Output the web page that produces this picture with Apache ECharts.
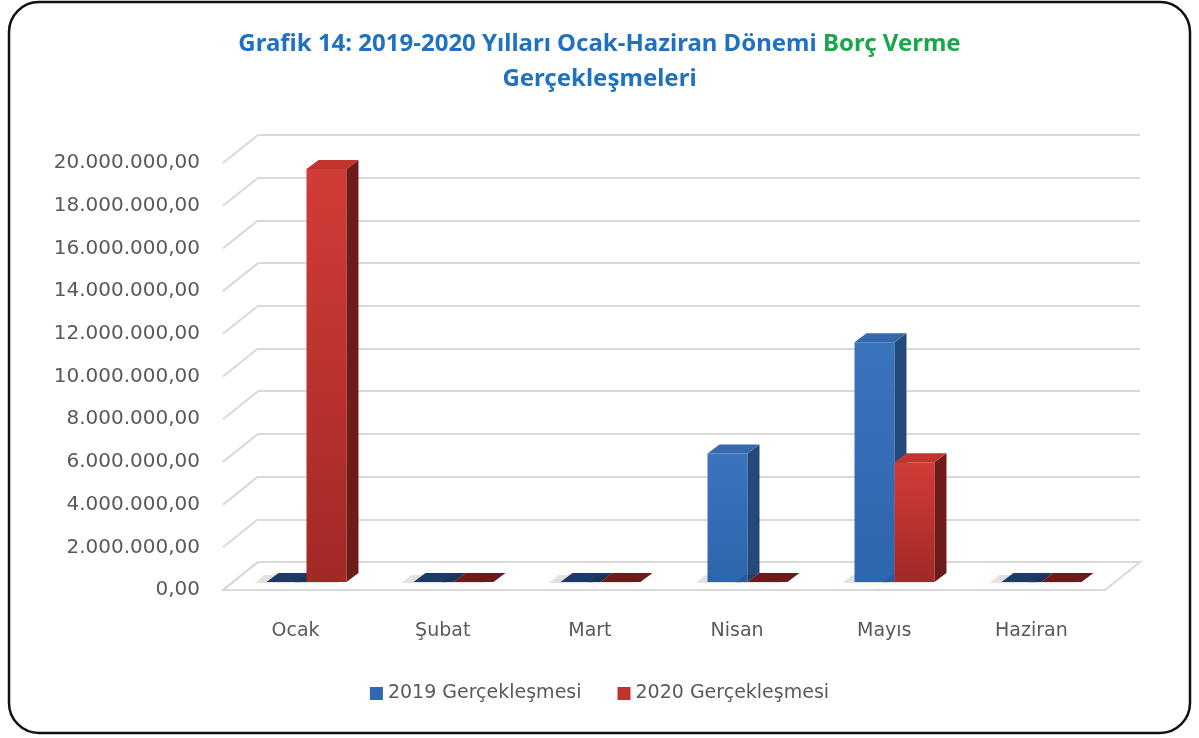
<!DOCTYPE html>
<html>
<head>
<meta charset="utf-8">
<script src="https://cdn.jsdelivr.net/npm/echarts@6/dist/echarts.min.js"></script>
<style>
html, body { margin: 0; padding: 0; background: #fff; }
#main { width: 1199px; height: 738px; }
</style>
</head>
<body>
<div id="main"></div>
<script>
var months = ['Ocak', 'Şubat', 'Mart', 'Nisan', 'Mayıs', 'Haziran'];
var values2019 = [0, 0, 0, 6000000, 11200000, 0];
var values2020 = [19300000, 0, 0, 0, 5600000, 0];
var yTicks = [0, 2000000, 4000000, 6000000, 8000000, 10000000, 12000000, 14000000, 16000000, 18000000, 20000000];
var seriesNames = ['2019 Gerçekleşmesi', '2020 Gerçekleşmesi'];

var chartDom = document.getElementById('main');
var myChart = echarts.init(chartDom);

// depth offset of the 3d box (back wall -> front edge)
var DEPTH_X = -35, DEPTH_Y = 28;

function trFormat(v) {
    return String(Math.round(v)).replace(/\B(?=(\d{3})+(?!\d))/g, '.') + ',00';
}

// 3d looking bar: front face, right side and top
function bar3d(side, frontTop, frontBottom, sideCol, topCol, flatCol) {
    return function (params, api) {
        var i = api.value(0), v = api.value(1);
        var base = api.coord([i, 0]);
        var top = api.coord([i, v]);
        var band = api.size([1, 0])[0];
        var w = band * 0.272;
        var x0 = side < 0 ? base[0] - w : base[0];
        var x1 = x0 + w;
        var dx = w * 0.3, dy = -w * 0.225;
        var children = [];
        // soft floor shadow
        children.push({
            type: 'polygon',
            shape: { points: [[x0 - 12, base[1] + 1], [x1 - 8, base[1] + 1], [x1 + dx - 10, base[1] + dy + 2], [x0 + dx - 14, base[1] + dy + 2]] },
            style: { fill: 'rgba(0,0,0,0.10)', shadowBlur: 10, shadowColor: 'rgba(0,0,0,0.3)' }
        });
        if (v > 0) {
            children.push({
                type: 'rect',
                shape: { x: x0, y: top[1], width: w, height: base[1] - top[1] },
                style: {
                    fill: new echarts.graphic.LinearGradient(0, 0, 0, 1, [
                        { offset: 0, color: frontTop }, { offset: 1, color: frontBottom }
                    ])
                }
            });
            children.push({
                type: 'polygon',
                shape: { points: [[x1, top[1]], [x1 + dx, top[1] + dy], [x1 + dx, base[1] + dy], [x1, base[1]]] },
                style: { fill: sideCol }
            });
            children.push({
                type: 'polygon',
                shape: { points: [[x0, top[1]], [x0 + dx, top[1] + dy], [x1 + dx, top[1] + dy], [x1, top[1]]] },
                style: { fill: topCol }
            });
        } else {
            children.push({
                type: 'polygon',
                shape: { points: [[x0, top[1]], [x0 + dx, top[1] + dy], [x1 + dx, top[1] + dy], [x1, top[1]]] },
                style: { fill: flatCol }
            });
        }
        return { type: 'group', children: children };
    };
}

// diagonal parts of the grid lines and the floor
function wallLines(params, api) {
    var cs = params.coordSys;
    var v = api.value(0);
    var p = api.coord([0, v]);
    var xl = cs.x;
    var children = [{
        type: 'line',
        shape: { x1: xl, y1: p[1], x2: xl + DEPTH_X, y2: p[1] + DEPTH_Y },
        style: { stroke: '#d9d9d9', lineWidth: 2 }
    }];
    if (v === 0) {
        var xr = cs.x + cs.width;
        children.unshift({
            type: 'polygon',
            shape: { points: [[xl, p[1]], [xr, p[1]], [xr + DEPTH_X, p[1] + DEPTH_Y], [xl + DEPTH_X, p[1] + DEPTH_Y]] },
            style: { fill: '#ffffff', stroke: '#d9d9d9', lineWidth: 2 }
        });
    }
    return { type: 'group', children: children };
}

var titleRich = {
    a: { fontFamily: 'Noto Sans', fontSize: 24, fontWeight: 'bold', color: '#1f72c1' },
    b: { fontFamily: 'Noto Sans', fontSize: 24, fontWeight: 'bold', color: '#1aa64a' }
};

var option = {
    backgroundColor: '#fff',
    animation: false,
    title: [{
        text: '{a|Grafik 14: 2019-2020 Yılları Ocak-Haziran Dönemi }{b|Borç Verme}',
        left: 'center',
        top: 27,
        textStyle: { rich: titleRich }
    }, {
        text: '{a|Gerçekleşmeleri}',
        left: 'center',
        top: 62,
        textStyle: { rich: titleRich }
    }],
    graphic: [{
        type: 'rect',
        shape: { x: 9, y: 2, width: 1181, height: 731, r: 30 },
        style: { fill: 'none', stroke: '#111', lineWidth: 2.5 },
        z: 100
    }],
    legend: {
        bottom: 30,
        left: 'center',
        itemWidth: 13,
        itemHeight: 13,
        itemGap: 36,
        icon: 'rect',
        data: seriesNames,
        textStyle: { fontFamily: 'DejaVu Sans', fontSize: 19, color: '#595959' }
    },
    grid: [
        { left: 258, right: 59, top: 135, bottom: 176 },
        { left: 222, right: 94, top: 163, bottom: 148 },
        { left: 233, right: 84, top: 154, bottom: 156 }
    ],
    xAxis: [
        { gridIndex: 0, type: 'category', data: months, show: false },
        {
            gridIndex: 1, type: 'category', data: months,
            axisLine: { show: false }, axisTick: { show: false },
            axisLabel: { margin: 32, fontFamily: 'DejaVu Sans', fontSize: 19, color: '#595959' }
        },
        { gridIndex: 2, type: 'category', data: months, show: false }
    ],
    yAxis: [
        {
            gridIndex: 0, type: 'value', min: 0, max: 20000000, interval: 2000000,
            axisLabel: { show: false }, axisLine: { show: false }, axisTick: { show: false },
            splitLine: { lineStyle: { color: '#d9d9d9', width: 2 } }
        },
        {
            gridIndex: 1, type: 'value', min: 0, max: 20000000, interval: 2000000,
            axisLine: { show: false }, axisTick: { show: false }, splitLine: { show: false },
            axisLabel: { margin: 22, fontFamily: 'DejaVu Sans', fontSize: 20, color: '#595959', formatter: trFormat }
        },
        { gridIndex: 2, type: 'value', min: 0, max: 20000000, show: false }
    ],
    series: [
        {
            type: 'custom',
            xAxisIndex: 0, yAxisIndex: 0,
            renderItem: wallLines,
            data: yTicks.map(function (t) { return [t]; }),
            silent: true,
            z: 1
        },
        {
            name: seriesNames[0],
            type: 'custom',
            xAxisIndex: 2, yAxisIndex: 2,
            itemStyle: { color: '#2f69b3' },
            renderItem: bar3d(-1, '#3a74bc', '#2e66ae', '#24497b', '#3568ad', '#1d3b68'),
            data: values2019.map(function (v, i) { return [i, v]; }),
            z: 5
        },
        {
            name: seriesNames[1],
            type: 'custom',
            xAxisIndex: 2, yAxisIndex: 2,
            itemStyle: { color: '#c0332f' },
            renderItem: bar3d(1, '#d23c38', '#a22926', '#6e1c1a', '#c4342f', '#6b1b1a'),
            data: values2020.map(function (v, i) { return [i, v]; }),
            z: 6
        }
    ]
};

myChart.setOption(option);
</script>
</body>
</html>
